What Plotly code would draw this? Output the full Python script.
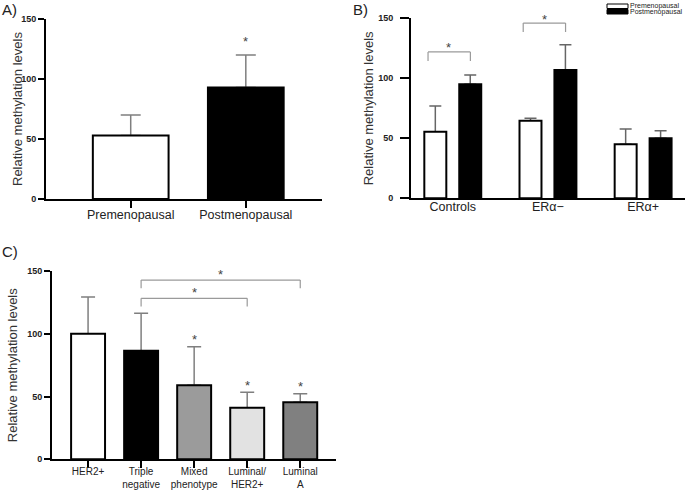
import plotly.graph_objects as go

# ---------------- data ----------------
a_categories = ["Premenopausal", "Postmenopausal"]
a_values = [53, 93]
a_err = [17, 27]
a_colors = ["white", "black"]
a_sig = [False, True]

b_groups = ["Controls", "ERα−", "ERα+"]
b_pre = [55.5, 64.7, 45]
b_pre_err = [21.5, 2, 12.7]
b_post = [95, 107, 50]
b_post_err = [7.7, 21, 6.3]
b_bracket_groups = ["Controls", "ERα−"]
b_bracket_levels = [122, 146]

c_categories = ["HER2+", "Triple<br>negative", "Mixed<br>phenotype", "Luminal/<br>HER2+", "Luminal<br>A"]
c_values = [100, 86.5, 59, 41.1, 45.4]
c_err = [29.3, 29.8, 30.7, 12.3, 6.9]
c_colors = ["white", "black", "#9b9b9b", "#e2e2e2", "#808080"]
c_sig = [False, False, True, True, True]
c_brackets = [(1, 4, 142.8), (1, 3, 128.2)]

y_ticks = [0, 50, 100, 150]
y_title = "Relative methylation levels"

W, H = 685, 490
def px(x): return x / W
def py(y): return 1 - y / H

FONT = "Arial, Liberation Sans, sans-serif"
ERRC = "#7f7f7f"
BRC = "#9a9a9a"
STARC = "#444444"
CLEAR = "rgba(0,0,0,0)"

fig = go.Figure()

def err_trace(x, y, e, xa, ya, color, cap, **kw):
    # error whiskers drawn first so the bar outline hides the lower cap
    fig.add_trace(go.Bar(
        x=x, y=y, marker=dict(color=CLEAR, line=dict(width=0)),
        error_y=dict(type="data", symmetric=False, array=e, arrayminus=[0]*len(e),
                     color=color, thickness=1.5, width=cap),
        xaxis=xa, yaxis=ya, hoverinfo="skip", **kw))

# Panel A
err_trace(a_categories, a_values, a_err, "x", "y", ERRC, 10, width=0.658)
fig.add_trace(go.Bar(
    x=a_categories, y=a_values, width=0.658,
    marker=dict(color=a_colors, line=dict(color="black", width=2)),
    xaxis="x", yaxis="y"))

# Panel B
err_trace(b_groups, b_pre, b_pre_err, "x2", "y2", "#666666", 6, width=0.231, offset=-0.299)
err_trace(b_groups, b_post, b_post_err, "x2", "y2", "#666666", 6, width=0.231, offset=0.068)
fig.add_trace(go.Bar(
    x=b_groups, y=b_pre, name="Premenopausal", width=0.231, offset=-0.299,
    marker=dict(color="white", line=dict(color="black", width=2)),
    xaxis="x2", yaxis="y2"))
fig.add_trace(go.Bar(
    x=b_groups, y=b_post, name="Postmenopausal", width=0.231, offset=0.068,
    marker=dict(color="black", line=dict(color="black", width=2)),
    xaxis="x2", yaxis="y2"))

# Panel C
err_trace(c_categories, c_values, c_err, "x3", "y3", ERRC, 7, width=0.64)
fig.add_trace(go.Bar(
    x=c_categories, y=c_values, width=0.64,
    marker=dict(color=c_colors, line=dict(color="black", width=2)),
    xaxis="x3", yaxis="y3"))

yax_common = dict(
    range=[0, 150], tickvals=y_ticks, ticks="outside", ticklen=6, tickwidth=2,
    tickcolor="black", showline=True, linecolor="black", linewidth=2,
    showgrid=False, zeroline=False, automargin=False,
    tickfont=dict(family=FONT, size=9, color="#222", weight="bold"),
    fixedrange=True)

xax_common = dict(type="category", showline=True, linecolor="black", linewidth=2,
                  showgrid=False, zeroline=False, ticks="outside", ticklen=7,
                  tickwidth=2, tickcolor="black", automargin=False, fixedrange=True)

fig.update_layout(
    width=W, height=H, margin=dict(l=0, r=0, t=0, b=0),
    paper_bgcolor="white", plot_bgcolor="white", showlegend=False,
    barmode="overlay",
    xaxis=dict(xax_common, domain=[px(46), px(322)], range=[-0.736, 1.662],
               anchor="y", ticklabelstandoff=-4,
               tickfont=dict(family=FONT, size=12.5, color="#222")),
    yaxis=dict(yax_common, domain=[py(199), py(19)], anchor="x"),
    xaxis2=dict(xax_common, domain=[px(411), 1.0], range=[-0.439, 2.44], ticks="",
                anchor="y2", ticklabelstandoff=-4,
                tickfont=dict(family=FONT, size=12.5, color="#222")),
    yaxis2=dict(yax_common, domain=[py(198.3), py(18.3)], anchor="x2",
                ticklen=9, ticklabelstandoff=5),
    xaxis3=dict(xax_common, domain=[px(52), px(336)], range=[-0.68, 4.674],
                anchor="y3", ticklabelstandoff=-5,
                tickfont=dict(family=FONT, size=10, color="#222")),
    yaxis3=dict(yax_common, domain=[py(459.3), py(271)], anchor="x3"),
)

ann = []
shapes = []

def star(xref, yref, x, y, shift):
    ann.append(dict(text="*", x=x, y=y, xref=xref, yref=yref, showarrow=False,
                    yanchor="middle", yshift=shift,
                    font=dict(family=FONT, size=13, color=STARC)))

# y-axis titles
for xp, y0, y1 in [(17, 19, 199), (368, 18.3, 198.3), (12, 271, 459.3)]:
    ann.append(dict(text=y_title, x=px(xp), y=py((y0 + y1) / 2), xref="paper", yref="paper",
                    textangle=-90, showarrow=False, xanchor="center", yanchor="middle",
                    font=dict(family=FONT, size=13, color="#333")))

# stars A
for i, s in enumerate(a_sig):
    if s:
        star("x", "y", i, a_values[i] + a_err[i], 14)

# brackets B
for g, lvl in zip(b_bracket_groups, b_bracket_levels):
    gi = b_groups.index(g)
    xl, xr = gi - 0.26, gi + 0.185
    drop = 7.5
    for (x0, y0, x1, y1) in [(xl, lvl - drop, xl, lvl), (xl, lvl, xr, lvl), (xr, lvl, xr, lvl - drop)]:
        shapes.append(dict(type="line", xref="x2", yref="y2", x0=x0, y0=y0, x1=x1, y1=y1,
                           line=dict(color=BRC, width=1.2)))
    star("x2", "y2", gi - 0.04, lvl, 4)

# brackets C
for (i0, i1, lvl) in c_brackets:
    drop = 6.5
    for (x0, y0, x1, y1) in [(i0, lvl - drop, i0, lvl), (i0, lvl, i1, lvl), (i1, lvl, i1, lvl - drop)]:
        shapes.append(dict(type="line", xref="x3", yref="y3", x0=x0, y0=y0, x1=x1, y1=y1,
                           line=dict(color=BRC, width=1.2)))
    star("x3", "y3", (i0 + i1) / 2, lvl, 6)

for i, s in enumerate(c_sig):
    if s:
        star("x3", "y3", i, c_values[i] + c_err[i], 7)

# panel labels
for lab, x, y in [("A)", 0, 9), ("B)", 351, 9), ("C)", 0, 252)]:
    ann.append(dict(text=lab, x=px(x), y=py(y), xref="paper", yref="paper",
                    xanchor="left", yanchor="middle", showarrow=False,
                    font=dict(family=FONT, size=15, color="#222")))

# legend for B
leg = [("Premenopausal", "white", 4, 8.5), ("Postmenopausal", "black", 9.5, 14)]
for name, col, y0, y1 in leg:
    shapes.append(dict(type="rect", xref="paper", yref="paper",
                       x0=px(607), x1=px(628), y0=py(y1), y1=py(y0),
                       fillcolor=col, line=dict(color="black", width=1)))
    ann.append(dict(text=name, x=px(628.5), y=py((y0 + y1) / 2), xref="paper", yref="paper",
                    xanchor="left", yanchor="middle", showarrow=False, borderpad=0,
                    font=dict(family=FONT, size=7, color="#222")))

fig.update_layout(annotations=ann, shapes=shapes)
fig.write_html("out.html", config={"displayModeBar": False},
               post_script="document.body.style.margin='0px';")
